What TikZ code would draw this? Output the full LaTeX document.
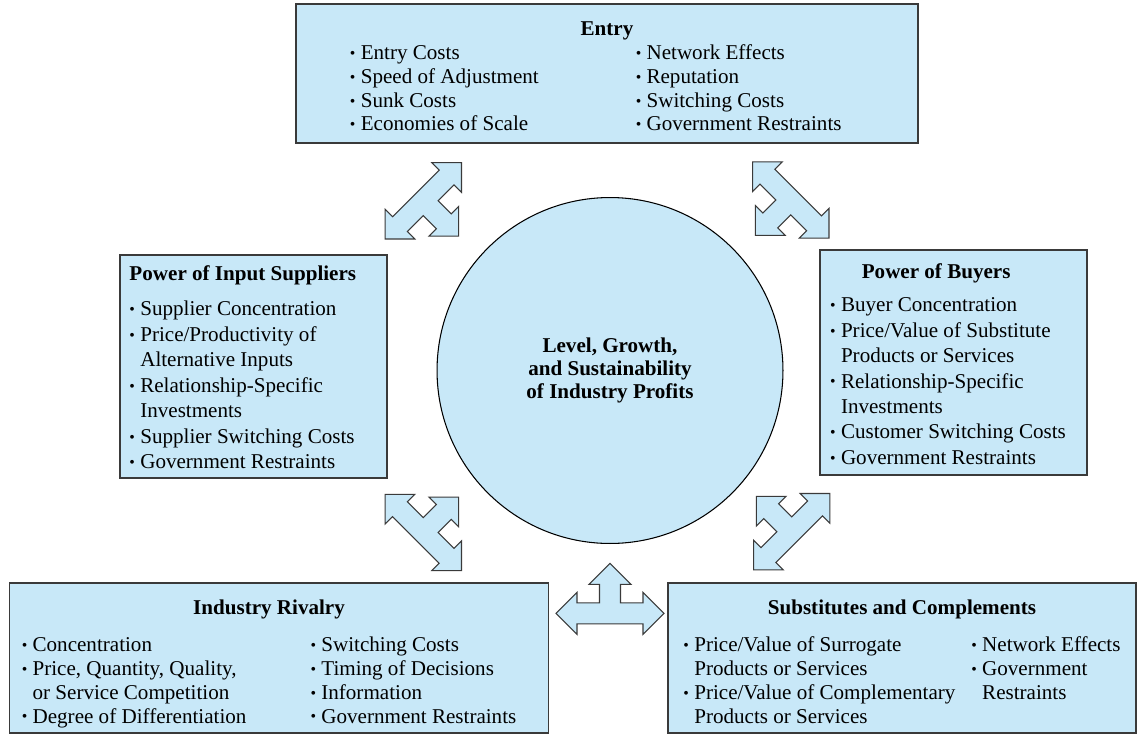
\documentclass[tikz,border=0pt]{standalone}
\usepackage{fontspec}
\setmainfont{Liberation Serif}
\usepackage{xcolor}
\usepackage{tikz}
\definecolor{paleblue}{HTML}{C8E8F8}
\definecolor{edgegray}{HTML}{3A3A3A}
\newcommand{\bul}{\raisebox{0.6pt}{\fontsize{9}{9}\selectfont\textbullet}}

\begin{document}
\begin{tikzpicture}[x=0.02cm, y=0.02cm,
    box/.style={draw=edgegray, line width=0.9pt, fill=paleblue, inner sep=0pt, font=\fontsize{12}{13.6}\selectfont},
    sidebox/.style={box, font=\fontsize{12}{14.5}\selectfont},
    hub/.style={circle, draw=black, line width=0.6pt, fill=paleblue, minimum size=6.92cm, align=center, font=\fontsize{12}{13}\selectfont\bfseries},
    tee/.pic={
      \filldraw[draw=edgegray, fill=paleblue, line width=0.6pt, line join=miter]
        (-54,0) -- (-33,21) -- (-33,10.5) -- (-10.5,10.5) -- (-10.5,29) -- (-21,29) -- (0,50)
        -- (21,29) -- (10.5,29) -- (10.5,10.5) -- (33,10.5) -- (33,21) -- (54,0)
        -- (33,-21) -- (33,-10.5) -- (-33,-10.5) -- (-33,-21) -- cycle;}]
  \useasboundingbox (0,0) rectangle (1138,735);
  % centre
  \node[hub] (core) at (610,364.5) {Level, Growth,\\and Sustainability\\of Industry Profits};
  % the five forces
  \node[box, minimum width=12.44cm, minimum height=2.78cm] (entry) at (607,661.5) {%
    \begin{tabular}{@{}l@{\hspace{3pt}}p{156.5pt}@{}l@{\hspace{3pt}}l@{\hspace{12.8pt}}}
      \multicolumn{4}{@{}c@{}}{\rule{0pt}{15.1pt}\textbf{Entry}}\\
      \bul & Entry Costs & \bul & Network Effects\\
      \bul & Speed of Adjustment & \bul & Reputation\\
      \bul & Sunk Costs & \bul & Switching Costs\\
      \bul & Economies of Scale & \bul & Government Restraints
    \end{tabular}};
  \node[sidebox, minimum width=5.34cm, minimum height=4.46cm] (supp) at (253.5,368.5) {%
    \begin{tabular}{@{}l@{\hspace{3pt}}l@{\hspace{13pt}}}
      \multicolumn{2}{@{}l@{}}{\rule{0pt}{13.6pt}\textbf{Power of Input Suppliers}}\\[5.7pt]
      \bul & Supplier Concentration\\
      \bul & Price/Productivity of\\
           & Alternative Inputs\\
      \bul & Relationship-Specific\\
           & Investments\\
      \bul & Supplier Switching Costs\\
      \bul & Government Restraints
    \end{tabular}};
  \node[sidebox, minimum width=5.34cm, minimum height=4.5cm] (buy) at (953.5,372.5) {%
    \begin{tabular}{@{}l@{\hspace{3pt}}l@{\hspace{6.2pt}}}
      \multicolumn{2}{@{}l@{}}{\rule{0pt}{14.6pt}\hspace{18pt}\textbf{Power of Buyers}}\\[4.3pt]
      \bul & Buyer Concentration\\
      \bul & Price/Value of Substitute\\
           & Products or Services\\
      \bul & Relationship-Specific\\
           & Investments\\
      \bul & Customer Switching Costs\\
      \bul & Government Restraints
    \end{tabular}};
  \node[box, minimum width=10.78cm, minimum height=3cm] (rival) at (279,77) {%
    \begin{tabular}{@{}l@{\hspace{3pt}}p{158.2pt}@{}l@{\hspace{3pt}}l@{\hspace{11.3pt}}}
      \multicolumn{4}{@{}c@{\hspace{11.3pt}}}{\rule{0pt}{16.3pt}\textbf{Industry Rivalry}}\\[7.4pt]
      \bul & Concentration & \bul & Switching Costs\\
      \bul & Price, Quantity, Quality, & \bul & Timing of Decisions\\
           & or Service Competition & \bul & Information\\
      \bul & Degree of Differentiation & \bul & Government Restraints
    \end{tabular}};
  \node[box, minimum width=9.36cm, minimum height=3cm] (subst) at (902,77) {%
    \begin{tabular}{@{}l@{\hspace{3pt}}p{157.7pt}@{}l@{\hspace{3pt}}l@{}}
      \multicolumn{4}{@{}c@{}}{\rule{0pt}{16.3pt}\textbf{Substitutes and Complements}}\\[7.4pt]
      \bul & Price/Value of Surrogate & \bul & Network Effects\\
           & Products or Services & \bul & Government\\
      \bul & Price/Value of Complementary & & Restraints\\
           & Products or Services & &
    \end{tabular}};
  % block arrows, branch pointing at the centre
  \pic[rotate=-135] (tl) at (423.3,534.2) {tee};
  \pic[rotate=135] (tr) at (790.8,535) {tee};
  \pic[rotate=-45] (bl) at (423.3,202.5) {tee};
  \pic[rotate=45] (br) at (791.7,203.3) {tee};
  \pic (bm) at (610,121.7) {tee};
\end{tikzpicture}
\end{document}
